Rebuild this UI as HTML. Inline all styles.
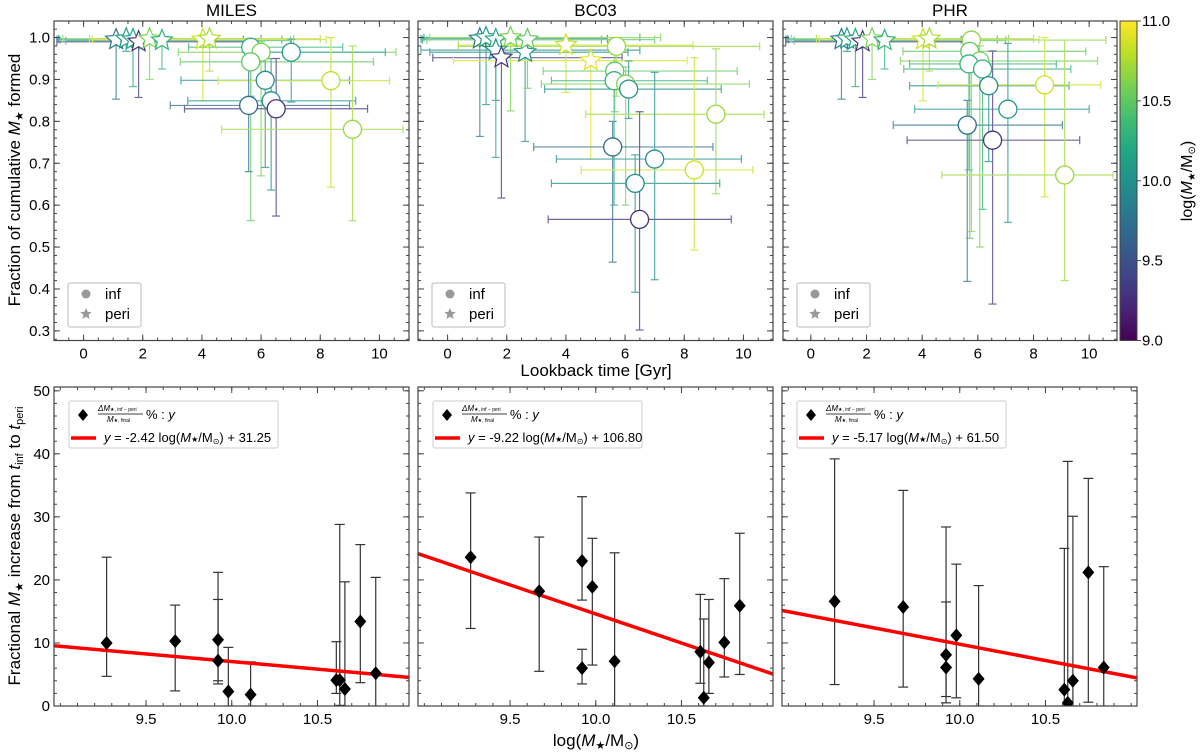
<!DOCTYPE html>
<html><head><meta charset="utf-8">
<style>
html,body{margin:0;padding:0;background:#fff;}
svg{display:block;font-family:"Liberation Sans","DejaVu Sans",sans-serif;}
</style></head>
<body>
<svg id="fig" width="1200" height="752" viewBox="0 0 1200 752" xmlns="http://www.w3.org/2000/svg">
<defs>
<linearGradient id="vir" x1="0" y1="1" x2="0" y2="0">
<stop offset="0" stop-color="#440154"/><stop offset="0.1" stop-color="#482475"/><stop offset="0.2" stop-color="#414487"/><stop offset="0.3" stop-color="#355f8d"/><stop offset="0.4" stop-color="#2a788e"/><stop offset="0.5" stop-color="#21918c"/><stop offset="0.6" stop-color="#22a884"/><stop offset="0.7" stop-color="#44bf70"/><stop offset="0.8" stop-color="#7ad151"/><stop offset="0.9" stop-color="#bddf26"/><stop offset="1" stop-color="#fde725"/>
</linearGradient>
</defs>
<g id="root"></g>
</svg>
<script>
// ===== top-row data (x = lookback time Gyr, y = fraction, m = log mass) =====
const milesCircX = [5.65,6.0,7.02,5.65,6.14,8.36,6.34,5.58,6.51,9.09];
const milesCircY = [0.977,0.965,0.965,0.942,0.898,0.897,0.849,0.838,0.83,0.781];
const milesCircM = [10.3,10.6,10.1,10.5,10.0,10.8,10.0,9.7,9.3,10.7];
const milesCircXlo = [3.55,3.2,5.8,3.27,3.29,4.55,3.52,2.93,3.41,4.67];
const milesCircXhi = [8.76,10.56,10.2,9.8,8.99,10.34,9.2,8.99,9.6,10.8];
const milesCircYlo = [0.86,0.67,0.846,0.563,0.69,0.643,0.636,0.68,0.574,0.563];
const milesCircYhi = [0.995,0.99,0.996,0.97,0.95,1.0,0.95,0.975,0.95,0.98];
const milesStarX = [1.1,1.44,1.67,1.86,2.23,2.65,4.03,4.26];
const milesStarY = [0.995,0.997,0.995,0.99,0.997,0.993,0.995,0.997];
const milesStarM = [9.8,10.1,10.2,9.3,10.6,10.3,10.85,10.75];
const milesStarXlo = [-0.9,-0.85,-0.8,-0.9,-0.7,-0.6,0.3,0.2];
const milesStarXhi = [5.4,6.0,6.7,5.9,7.1,7.0,8.2,8.0];
const milesStarYlo = [0.853,0.967,0.883,0.857,0.9,0.925,0.849,0.92];

const bc03CircX = [5.71,5.65,5.63,6.02,6.12,9.07,5.58,7.0,8.34,6.34,6.49];
const bc03CircY = [0.979,0.92,0.897,0.889,0.877,0.817,0.739,0.71,0.684,0.652,0.566];
const bc03CircM = [10.7,10.5,10.3,10.6,10.0,10.7,9.7,10.0,10.85,10.0,9.3];
const bc03CircXlo = [0.36,3.23,3.51,3.17,3.28,4.67,2.91,3.68,4.52,3.51,3.4];
const bc03CircXhi = [10.55,9.79,8.78,10.2,9.25,10.7,8.97,9.93,10.32,9.2,9.59];
const bc03CircYlo = [0.86,0.823,0.6,0.6,0.807,0.627,0.464,0.422,0.493,0.392,0.302];
const bc03CircYhi = [0.995,0.96,0.94,0.93,0.944,0.973,0.8,0.917,0.952,0.72,0.823];
const bc03StarX = [1.09,1.3,1.63,1.63,1.82,2.13,2.62,2.7,4.0,4.84];
const bc03StarY = [0.997,1.0,0.995,0.97,0.952,1.0,0.965,0.995,0.982,0.945];
const bc03StarM = [9.8,10.1,10.2,10.0,9.3,10.6,10.0,10.5,10.85,10.9];
const bc03StarXlo = [-0.9,-0.8,-0.85,-0.9,-0.5,-0.6,-0.6,-0.7,0.36,0.2];
const bc03StarXhi = [5.4,6.5,5.2,6.5,5.9,7.2,6.1,7.0,8.3,8.1];
const bc03StarYlo = [0.764,0.84,0.714,0.85,0.617,0.825,0.752,0.879,0.869,0.71];

const phrCircX = [5.77,5.71,6.07,5.68,6.17,6.39,8.4,7.08,5.62,6.53,9.12];
const phrCircY = [0.994,0.967,0.944,0.937,0.925,0.885,0.887,0.829,0.791,0.755,0.672];
const phrCircM = [10.65,10.5,10.6,10.3,10.3,10.0,10.85,10.05,9.75,9.3,10.7];
const phrCircXlo = [3.97,3.31,3.22,3.55,3.34,3.55,4.57,3.73,2.96,3.46,4.71];
const phrCircXhi = [10.6,9.88,10.3,8.82,9.34,9.28,10.42,10.0,9.04,9.66,10.86];
const phrCircYlo = [0.537,0.521,0.5,0.684,0.59,0.704,0.62,0.559,0.418,0.364,0.42];
const phrCircYhi = [1.0,0.99,0.98,0.96,0.95,0.93,1.0,0.986,0.85,0.968,0.994];
const phrStarX = [1.1,1.3,1.6,1.86,2.2,2.65,4.03,4.26];
const phrStarY = [0.995,0.997,0.995,0.99,0.997,0.993,0.995,0.997];
const phrStarM = [9.8,10.1,10.2,9.3,10.6,10.3,10.85,10.75];
const phrStarXlo = [-0.9,-0.85,-0.8,-0.9,-0.7,-0.6,0.3,0.2];
const phrStarXhi = [5.4,6.0,6.7,5.9,7.1,7.0,8.2,8.0];
const phrStarYlo = [0.853,0.967,0.883,0.857,0.9,0.925,0.849,0.92];

// ===== bottom-row data =====
const massX = [9.27,9.67,9.92,9.92,9.98,10.11,10.61,10.63,10.66,10.75,10.84];
const milesFrac = [10.0,10.3,10.5,7.2,2.3,1.8,4.1,4.1,2.7,13.4,5.2];
const milesLo = [4.7,2.4,3.5,4.0,0.0,0.0,2.0,0.1,0.0,3.7,0.0];
const milesHi = [23.6,16.0,21.2,16.9,9.3,7.0,10.2,28.8,19.7,25.6,20.4];
const bc03Frac = [23.6,18.2,23.0,6.0,18.9,7.1,8.6,1.3,6.9,10.1,15.9];
const bc03Lo = [12.3,5.5,16.8,3.5,6.5,0.0,3.6,0.0,2.0,4.6,5.0];
const bc03Hi = [33.8,26.8,33.2,9.0,26.6,24.3,17.7,13.8,16.9,20.2,27.4];
const phrFrac = [16.6,15.7,8.1,6.1,11.2,4.3,2.6,0.5,4.0,21.2,6.1];
const phrLo = [3.4,3.0,1.5,0.5,1.3,0.0,0.0,0.0,0.0,0.6,0.0];
const phrHi = [39.2,34.2,28.4,16.5,22.5,19.1,25.0,38.8,30.1,36.1,22.1];
const fitSlope = [-2.42,-9.22,-5.17];
const fitIntercept = [31.25,106.80,61.50];
const topTitles = ["MILES","BC03","PHR"];
const topYTicks = ["0.3","0.4","0.5","0.6","0.7","0.8","0.9","1.0"];
const topXTicks = ["0","2","4","6","8","10"];
const botYTicks = ["0","10","20","30","40","50"];
const botXTicks = ["9.5","10.0","10.5"];
const cbTicks = ["9.0","9.5","10.0","10.5","11.0"];

const NS="http://www.w3.org/2000/svg";
const root=document.getElementById('root');
function mk(tag,attrs,parent){const e=document.createElementNS(NS,tag);for(const k in attrs)e.setAttribute(k,attrs[k]);(parent||root).appendChild(e);return e;}
const vs=[[0,[68,1,84]],[0.1,[72,36,117]],[0.2,[65,68,135]],[0.3,[53,95,141]],[0.4,[42,120,142]],[0.5,[33,145,140]],[0.6,[34,168,132]],[0.7,[68,191,112]],[0.8,[122,209,81]],[0.9,[189,223,38]],[1,[253,231,37]]];
function vir(m){let t=Math.max(0,Math.min(1,(m-9)/2));for(let i=0;i<vs.length-1;i++){if(t<=vs[i+1][0]){const f=(t-vs[i][0])/(vs[i+1][0]-vs[i][0]);const c=vs[i][1].map((v,j)=>Math.round(v+f*(vs[i+1][1][j]-v)));return `rgb(${c})`;}}return 'rgb(253,231,37)';}
function starPts(cx,cy,R){const r=R*0.45;let p=[];for(let i=0;i<10;i++){const a=-Math.PI/2+i*Math.PI/5;const rr=i%2?r:R;p.push((cx+rr*Math.cos(a)).toFixed(1)+','+(cy+rr*Math.sin(a)).toFixed(1));}return p.join(' ');}

function ticks(g,x0,x1,y0,y1,xs,xmaj,xmin,ys,ymaj,ymin){
  const st={stroke:'#444','stroke-width':1};
  xmin.forEach(v=>{const x=xs(v);mk('line',Object.assign({x1:x,x2:x,y1:y1,y2:y1-3},st),g);mk('line',Object.assign({x1:x,x2:x,y1:y0,y2:y0+3},st),g);});
  xmaj.forEach(v=>{const x=xs(v);mk('line',Object.assign({x1:x,x2:x,y1:y1,y2:y1-6},st),g);mk('line',Object.assign({x1:x,x2:x,y1:y0,y2:y0+6},st),g);});
  ymin.forEach(v=>{const y=ys(v);mk('line',Object.assign({x1:x0,x2:x0+3,y1:y,y2:y},st),g);mk('line',Object.assign({x1:x1,x2:x1-3,y1:y,y2:y},st),g);});
  ymaj.forEach(v=>{const y=ys(v);mk('line',Object.assign({x1:x0,x2:x0+6,y1:y,y2:y},st),g);mk('line',Object.assign({x1:x1,x2:x1-6,y1:y,y2:y},st),g);});
}

// ===== top panels =====
const topPanels=[{x0:54,x1:409},{x0:418,x1:773},{x0:783,x1:1117}];
const topData=[
 [milesCircX,milesCircY,milesCircM,milesCircXlo,milesCircXhi,milesCircYlo,milesCircYhi,milesStarX,milesStarY,milesStarM,milesStarXlo,milesStarXhi,milesStarYlo],
 [bc03CircX,bc03CircY,bc03CircM,bc03CircXlo,bc03CircXhi,bc03CircYlo,bc03CircYhi,bc03StarX,bc03StarY,bc03StarM,bc03StarXlo,bc03StarXhi,bc03StarYlo],
 [phrCircX,phrCircY,phrCircM,phrCircXlo,phrCircXhi,phrCircYlo,phrCircYhi,phrStarX,phrStarY,phrStarM,phrStarXlo,phrStarXhi,phrStarYlo]];
const TY0=21,TY1=340.5,TYMIN=0.277,TYMAX=1.0395;
topPanels.forEach((P,pi)=>{
  const g=mk('g',{});
  
  
  const xs=v=>P.x0+(v+1)/12*(P.x1-P.x0);
  const ys=v=>TY1-(v-TYMIN)/(TYMAX-TYMIN)*(TY1-TY0);
  const t=mk('text',{x:(P.x0+P.x1)/2,y:16,'text-anchor':'middle','font-size':17,fill:'#000'},g);t.textContent=topTitles[pi];
  
  const [cx,cy,cm,cxl,cxh,cyl,cyh,sx,sy,sm,sxl,sxh,syl]=topData[pi];
  const eg=mk('g',{'stroke-width':1.2,opacity:0.75},g);
  function eb(x,y,xl,xh,yl,yh,col){
    mk('line',{x1:xs(xl),x2:xs(xh),y1:ys(y),y2:ys(y),stroke:col},eg);
    mk('line',{x1:xs(x),x2:xs(x),y1:ys(yl),y2:ys(yh),stroke:col},eg);
    [xl,xh].forEach(v=>mk('line',{x1:xs(v),x2:xs(v),y1:ys(y)-4,y2:ys(y)+4,stroke:col},eg));
    [yl,yh].forEach(v=>mk('line',{x1:xs(x)-4,x2:xs(x)+4,y1:ys(v),y2:ys(v),stroke:col},eg));
  }
  sx.forEach((x,i)=>eb(x,sy[i],sxl[i],sxh[i],syl[i],Math.min(1.0,sy[i]+0.003),vir(sm[i])));
  cx.forEach((x,i)=>eb(x,cy[i],cxl[i],cxh[i],cyl[i],cyh[i],vir(cm[i])));
  sx.forEach((x,i)=>{const s=mk('polygon',{points:starPts(xs(x),ys(sy[i]),11),fill:'#fff',stroke:vir(sm[i]),'stroke-width':1.2},g);
    });
  cx.forEach((x,i)=>{const c=mk('circle',{cx:xs(x),cy:ys(cy[i]),r:9,fill:'#fff',stroke:vir(cm[i]),'stroke-width':1.3},g);
    });
  mk('rect',{x:P.x0,y:TY0,width:P.x1-P.x0,height:TY1-TY0,fill:'none',stroke:'#444','stroke-width':1.2},g);
  const xmaj=[0,2,4,6,8,10],xmin=[];for(let v=-1;v<=11;v+=0.5)xmin.push(v);
  const ymaj=[0.3,0.4,0.5,0.6,0.7,0.8,0.9,1.0],ymin=[];for(let v=0.28;v<=1.04;v+=0.02)ymin.push(+v.toFixed(2));
  ticks(g,P.x0,P.x1,TY0,TY1,xs,xmaj,xmin,ys,ymaj,ymin);
  xmaj.forEach((v,i)=>{const l=mk('text',{x:xs(v),y:TY1+18,'text-anchor':'middle','font-size':15},g);l.textContent=topXTicks[i];});
  if(pi===0) ymaj.forEach((v,i)=>{const l=mk('text',{x:P.x0-4,y:ys(v)+5,'text-anchor':'end','font-size':15},g);l.textContent=topYTicks[i];});
  const lg=mk('g',{},g);
  
  mk('rect',{x:P.x0+14,y:283,width:73,height:44,fill:'#fff',stroke:'#bbb','stroke-width':1,rx:2},lg);
  mk('circle',{cx:P.x0+32,cy:294,r:4.5,fill:'#999'},lg);
  mk('polygon',{points:starPts(P.x0+32,314,6),fill:'#999'},lg);
  let a=mk('text',{x:P.x0+51,y:299,'font-size':15},lg);a.textContent='inf';
  a=mk('text',{x:P.x0+51,y:319,'font-size':15},lg);a.textContent='peri';
});
const cb=mk('g',{});

mk('rect',{x:1120,y:21,width:17,height:319.5,fill:'url(#vir)',stroke:'#444','stroke-width':1},cb);
[9,9.5,10,10.5,11].forEach((v,i)=>{const y=340.5-(v-9)/2*319.5;mk('line',{x1:1137,x2:1141,y1:y,y2:y,stroke:'#444'},cb);
  const l=mk('text',{x:1142,y:y+5,'font-size':15},cb);l.textContent=cbTicks[i];});
const cbl=mk('text',{x:0,y:0,'font-size':16,'text-anchor':'middle',transform:'translate(1192,181) rotate(-90)'},cb);
cbl.innerHTML='log(<tspan font-style="italic">M</tspan><tspan font-size="10" dy="3">★</tspan><tspan dy="-3">/M</tspan><tspan font-size="10" dy="3">⊙</tspan><tspan dy="-3">)</tspan>';

let lab=mk('text',{x:596,y:376,'text-anchor':'middle','font-size':17});lab.textContent='Lookback time [Gyr]';

lab=mk('text',{x:0,y:0,'text-anchor':'middle','font-size':17,transform:'translate(20,180) rotate(-90)'});
lab.innerHTML='Fraction of cumulative <tspan font-style="italic">M</tspan><tspan font-size="11" dy="3">★</tspan><tspan dy="-3"> formed</tspan>';


// ===== bottom panels =====
const botPanels=[{x0:54,x1:409},{x0:418,x1:773},{x0:782,x1:1137}];
const botData=[[milesFrac,milesLo,milesHi],[bc03Frac,bc03Lo,bc03Hi],[phrFrac,phrLo,phrHi]];
const BY0=387,BY1=706,BYMIN=0,BYMAX=50.6,BXMIN=8.963,BXMAX=11.034;
botPanels.forEach((P,pi)=>{
  const g=mk('g',{});
  
  
  const xs=v=>P.x0+(v-BXMIN)/(BXMAX-BXMIN)*(P.x1-P.x0);
  const ys=v=>BY1-(v-BYMIN)/(BYMAX-BYMIN)*(BY1-BY0);
  const [fr,lo,hi]=botData[pi];
  const clipId='bc'+pi;
  const cp=mk('clipPath',{id:clipId},g);mk('rect',{x:P.x0,y:BY0,width:P.x1-P.x0,height:BY1-BY0},cp);
  const inner=mk('g',{'clip-path':`url(#${clipId})`},g);
  massX.forEach((x,i)=>{
    const X=xs(x);
    mk('line',{x1:X,x2:X,y1:ys(lo[i]),y2:ys(hi[i]),stroke:'#333','stroke-width':1.2},inner);
    [lo[i],hi[i]].forEach(v=>mk('line',{x1:X-5,x2:X+5,y1:ys(v),y2:ys(v),stroke:'#333','stroke-width':1.2},inner));
  });
  const fl=mk('line',{x1:xs(BXMIN),x2:xs(BXMAX),y1:ys(fitSlope[pi]*BXMIN+fitIntercept[pi]),y2:ys(fitSlope[pi]*BXMAX+fitIntercept[pi]),stroke:'#ff0000','stroke-width':3.5},inner);
  
  massX.forEach((x,i)=>{const X=xs(x),Y=ys(fr[i]);
    const d=mk('polygon',{points:`${X},${Y-7} ${X+6},${Y} ${X},${Y+7} ${X-6},${Y}`,fill:'#000'},inner);
    });
  mk('rect',{x:P.x0,y:BY0,width:P.x1-P.x0,height:BY1-BY0,fill:'none',stroke:'#444','stroke-width':1.2},g);
  const xmaj=[9.5,10,10.5],xmin=[];for(let v=9.0;v<=11.0;v+=0.1)xmin.push(+v.toFixed(1));
  const ymaj=[0,10,20,30,40,50],ymin=[];for(let v=0;v<=50;v+=2)ymin.push(v);
  ticks(g,P.x0,P.x1,BY0,BY1,xs,xmaj,xmin,ys,ymaj,ymin);
  xmaj.forEach((v,i)=>{const l=mk('text',{x:xs(v),y:BY1+18,'text-anchor':'middle','font-size':15},g);l.textContent=botXTicks[i];});
  if(pi===0) ymaj.forEach((v,i)=>{const l=mk('text',{x:P.x0-4,y:ys(v)+5,'text-anchor':'end','font-size':15},g);l.textContent=botYTicks[i];});
  const lg=mk('g',{},g);
  
  mk('rect',{x:P.x0+15,y:401,width:209,height:47,fill:'#fff',stroke:'#ccc','stroke-width':1,rx:2},lg);
  const dx=P.x0+29;mk('polygon',{points:`${dx},409 ${dx+5},415 ${dx},421 ${dx-5},415`,fill:'#000'},lg);
  let t=mk('text',{x:P.x0+44,y:411,'font-size':8,'font-style':'italic'},lg);t.innerHTML='ΔM<tspan font-size="5" font-style="normal">★, inf − peri</tspan>';
  mk('line',{x1:P.x0+44,x2:P.x0+89,y1:414,y2:414,stroke:'#000','stroke-width':0.7},lg);
  t=mk('text',{x:P.x0+53,y:422,'font-size':8,'font-style':'italic'},lg);t.innerHTML='M<tspan font-size="5" font-style="normal">★, final</tspan>';
  t=mk('text',{x:P.x0+92,y:419,'font-size':13},lg);t.innerHTML='% : <tspan font-style="italic">y</tspan>';
  mk('line',{x1:P.x0+17,x2:P.x0+42,y1:438,y2:438,stroke:'#ff0000','stroke-width':3.5},lg);
  t=mk('text',{x:P.x0+50,y:442,'font-size':13},lg);
  t.innerHTML='<tspan font-style="italic">y</tspan> = '+fitSlope[pi].toFixed(2)+' log(<tspan font-style="italic">M</tspan><tspan font-size="8">★</tspan>/M<tspan font-size="8" dy="2">⊙</tspan><tspan dy="-2">) + '+fitIntercept[pi].toFixed(2)+'</tspan>';
});
lab=mk('text',{x:596,y:746,'text-anchor':'middle','font-size':17});
lab.innerHTML='log(<tspan font-style="italic">M</tspan><tspan font-size="11" dy="3">★</tspan><tspan dy="-3">/M</tspan><tspan font-size="11" dy="3">⊙</tspan><tspan dy="-3">)</tspan>';

lab=mk('text',{x:0,y:0,'text-anchor':'middle','font-size':17,transform:'translate(20,546) rotate(-90)'});
lab.innerHTML='Fractional <tspan font-style="italic">M</tspan><tspan font-size="11" dy="3">★</tspan><tspan dy="-3"> increase from </tspan><tspan font-style="italic">t</tspan><tspan font-size="11" dy="3">inf</tspan><tspan dy="-3"> to </tspan><tspan font-style="italic">t</tspan><tspan font-size="11" dy="3">peri</tspan>';

</script>
</body></html>
